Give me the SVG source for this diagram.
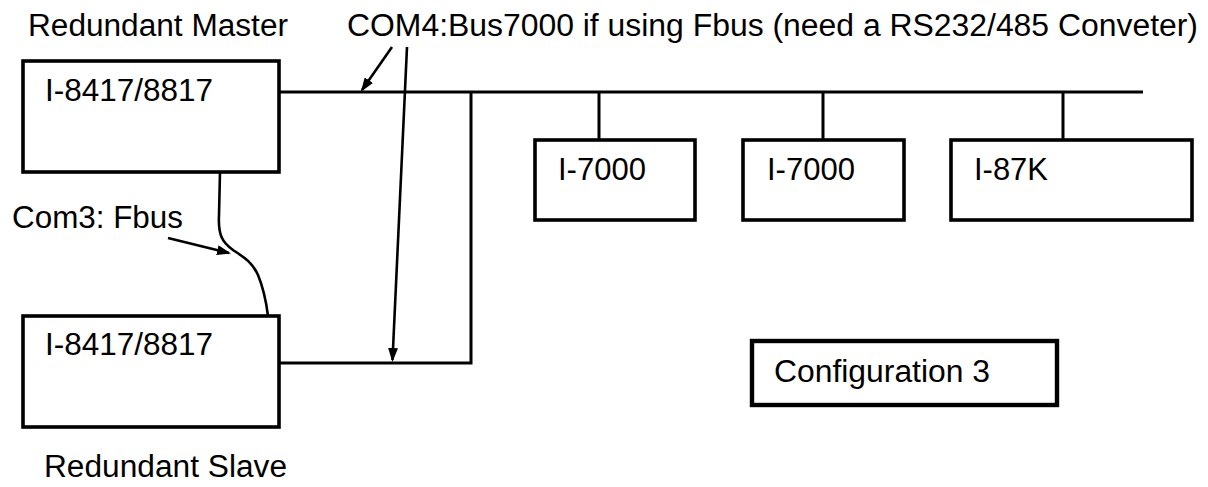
<svg xmlns="http://www.w3.org/2000/svg" width="1208" height="487" viewBox="0 0 1208 487">
<style>
text{font-family:"Liberation Sans",Arial,sans-serif;font-size:31px;fill:#000}
.box{fill:#fff;stroke:#000;stroke-width:3.6}
.cfg{fill:#fff;stroke:#000;stroke-width:4.4}
.ln{fill:none;stroke:#000;stroke-width:3}
.ar{fill:none;stroke:#000;stroke-width:2.6}
</style>
<defs>
<marker id="ah" viewBox="0 0 14 10" refX="12" refY="5" markerWidth="14" markerHeight="10" markerUnits="userSpaceOnUse" orient="auto">
<path d="M0,0 L14,5 L0,10 z" fill="#000"/>
</marker>
</defs>
<rect width="1208" height="487" fill="#fff"/>
<g id="connectors">
<path class="ln" d="M279,92 H1143"/>
<path class="ln" d="M599,92 V140 M823,92 V140 M1063,92 V140"/>
<path class="ln" d="M471,92 V363 H279"/>
<path class="ar" d="M220,172 L219,215 C218,235 222,242 233,250 C245,258 252,262 258,275 C263,287 266,300 268,316"/>
<path class="ar" d="M392,47 L362,90" marker-end="url(#ah)"/>
<path class="ar" d="M407,47 L392.5,360" marker-end="url(#ah)"/>
<path class="ar" d="M168,238 L229,253" marker-end="url(#ah)"/>
</g>
<g id="master">
<rect class="box" x="23" y="61" width="256" height="111"/>
<text x="45" y="101" textLength="168" lengthAdjust="spacingAndGlyphs">I-8417/8817</text>
</g>
<g id="slave">
<rect class="box" x="23" y="316" width="256" height="111"/>
<text x="45" y="355" textLength="168" lengthAdjust="spacingAndGlyphs">I-8417/8817</text>
</g>
<g id="i7000a">
<rect class="box" x="535" y="140" width="160" height="80"/>
<text x="558" y="180" textLength="88" lengthAdjust="spacingAndGlyphs">I-7000</text>
</g>
<g id="i7000b">
<rect class="box" x="743" y="140" width="161" height="80"/>
<text x="767" y="180" textLength="88" lengthAdjust="spacingAndGlyphs">I-7000</text>
</g>
<g id="i87k">
<rect class="box" x="951" y="140" width="241" height="80"/>
<text x="974" y="180" textLength="74" lengthAdjust="spacingAndGlyphs">I-87K</text>
</g>
<g id="config">
<rect class="cfg" x="752" y="341" width="305" height="64"/>
<text x="774" y="382" textLength="216" lengthAdjust="spacingAndGlyphs">Configuration 3</text>
</g>
<g id="labels">
<text x="28" y="36" textLength="260" lengthAdjust="spacingAndGlyphs">Redundant Master</text>
<text x="347" y="36" textLength="851" lengthAdjust="spacingAndGlyphs">COM4:Bus7000 if using Fbus (need a RS232/485 Conveter)</text>
<text x="12" y="228" textLength="171" lengthAdjust="spacingAndGlyphs">Com3: Fbus</text>
<text x="44" y="477" textLength="243" lengthAdjust="spacingAndGlyphs">Redundant Slave</text>
</g>
</svg>
